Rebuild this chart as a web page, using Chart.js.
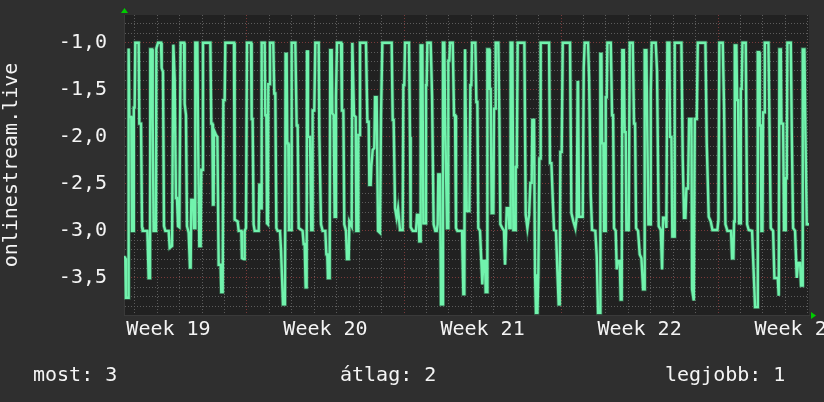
<!DOCTYPE html>
<html><head><meta charset="utf-8">
<script src="https://cdn.jsdelivr.net/npm/chart.js@4.4.1/dist/chart.umd.min.js"></script>
<style>
html,body{margin:0;padding:0;background:#2f2f2f;}
#wrap{position:relative;width:824px;height:402px;overflow:hidden;}
canvas{display:block}
.lg{position:absolute;top:362px;font-family:"DejaVu Sans Mono",monospace;font-size:20px;line-height:24px;color:#f4f4f4;white-space:pre}
</style></head><body>
<div id="wrap"><canvas id="c" width="824" height="402"></canvas></div>
<script>
// time in hours since the start of week 19
const timeHours = [
36.4,37.8,38.5,40.7,41.0,41.7,42.1,44.2,44.9,46.7,
46.9,47.8,48.5,52.1,52.8,54.6,55.7,56.4,61.4,62.8,
64.2,64.6,66.4,67.1,68.1,70.6,71.0,72.8,76.0,76.7,
78.1,79.2,80.6,84.2,85.3,87.8,89.2,90.6,92.0,93.1,
94.2,95.6,97.0,100.6,101.3,102.7,103.8,105.6,107.0,107.7,
108.4,110.6,111.3,112.4,112.7,114.9,115.6,117.0,118.4,119.1,
120.2,120.9,128.8,129.8,130.9,131.6,132.3,132.7,134.8,136.3,
137.7,139.8,140.5,142.0,142.7,144.1,144.8,154.1,154.8,158.0,
159.1,161.9,162.6,164.8,165.5,166.9,168.0,172.3,173.0,174.0,
175.1,176.2,180.5,181.2,182.2,183.0,183.7,186.9,187.6,188.7,
189.4,190.4,190.8,191.9,192.6,196.1,197.2,198.3,199.4,200.8,
203.3,204.4,205.4,206.5,208.6,209.3,210.4,211.1,212.2,212.9,
215.1,215.8,219.7,221.1,222.2,223.3,227.5,228.6,229.7,230.8,
231.8,232.2,233.2,235.4,236.8,237.9,238.2,240.0,241.1,244.7,
245.4,247.2,248.9,251.8,252.9,253.9,254.6,256.4,257.1,258.6,
259.3,260.7,261.8,262.9,263.2,264.3,268.6,269.6,271.1,272.1,
273.9,275.0,276.8,277.5,280.0,280.7,282.5,284.3,285.0,286.8,
287.1,288.2,288.9,295.3,296.8,298.2,298.9,300.3,301.0,302.5,
304.2,305.0,306.7,308.2,310.3,311.4,312.1,312.8,322.8,323.9,
324.9,326.4,328.1,329.6,330.6,331.7,334.6,335.3,336.3,337.1,
341.3,342.4,343.1,345.3,348.8,349.9,351.7,352.4,353.1,353.8,
355.6,356.7,358.5,359.5,360.2,361.0,364.5,366.0,366.7,367.7,
369.5,371.0,372.0,372.7,374.5,375.6,377.0,377.7,379.1,379.9,
380.9,382.0,383.1,383.4,384.5,385.2,388.1,389.5,390.6,391.6,
393.1,398.1,399.5,400.5,401.3,402.0,403.1,405.9,407.0,408.0,
408.8,412.3,413.4,414.5,415.5,417.3,418.7,419.8,420.9,422.7,
423.4,424.8,425.2,427.0,427.7,428.7,429.8,431.6,432.3,433.4,
434.1,436.9,438.0,439.1,441.2,443.0,444.1,445.1,445.9,448.0,
448.7,449.8,450.1,451.9,453.0,454.8,455.5,456.6,457.6,464.8,
466.2,468.0,469.8,471.2,472.6,473.3,475.1,476.2,477.2,478.7,
479.7,480.8,481.5,482.2,491.2,492.2,493.7,495.1,496.5,498.6,
500.1,501.5,502.6,503.3,504.7,505.8,513.6,515.1,517.2,519.3,
520.8,521.8,522.2,523.3,527.2,528.3,529.3,532.9,534.0,535.8,
537.2,540.7,542.2,543.6,545.7,546.1,547.2,547.9,549.3,550.0,
551.1,551.8,552.9,553.6,557.2,558.6,559.7,560.7,562.5,563.6,
564.6,566.8,567.9,568.9,569.6,571.1,572.1,573.2,573.9,576.4,
577.5,580.7,582.1,583.2,584.3,586.4,588.2,590.0,591.8,592.8,
593.5,595.3,596.4,597.5,599.2,600.0,601.0,605.3,606.7,608.5,
610.7,612.1,613.2,615.7,616.7,617.8,619.9,620.6,622.1,623.1,
624.9,625.6,632.8,634.2,635.6,637.1,638.1,639.9,641.0,643.5,
644.2,646.0,647.1,649.2,650.3,658.5,659.9,662.0,664.2,666.0,
671.3,672.4,673.4,677.0,678.4,679.9,682.0,685.9,687.0,688.4,
689.1,689.9,691.6,692.4,693.4,694.5,695.6,696.3,697.3,698.1,
701.6,703.1,704.8,708.4,709.8,711.6,713.8,714.5,715.9,716.6,
717.7,718.4,719.5,720.2,721.3,722.0,725.9,727.0,728.4,730.9,
732.3,735.9,736.9,737.7,739.1,739.8,741.6,742.6,743.7,744.4,
745.5,746.2,749.8,750.9,752.3,754.4,756.2,757.6,759.8,760.8,
761.9,762.6,764.4,765.5,766.9,769.4
];
const rankValues = [
-3.27,-3.29,-3.71,-3.71,-1.06,-1.06,-1.79,-1.79,-3.00,-3.00,
-1.69,-1.69,-1.00,-1.00,-1.86,-1.86,-2.96,-3.00,-3.00,-3.50,
-3.50,-1.07,-1.07,-1.83,-3.00,-3.00,-1.06,-1.00,-1.00,-1.27,
-1.31,-2.95,-3.00,-3.00,-3.18,-3.16,-1.02,-1.38,-2.65,-2.65,
-2.95,-2.96,-1.00,-1.00,-1.65,-1.77,-2.95,-3.02,-3.39,-3.39,
-2.67,-2.67,-2.97,-2.97,-1.00,-1.00,-1.93,-3.16,-3.16,-2.35,
-2.35,-1.00,-1.00,-1.86,-1.86,-2.72,-2.72,-1.93,-1.98,-2.00,
-3.36,-3.36,-3.65,-3.65,-1.61,-1.61,-1.00,-1.00,-2.88,-2.90,
-3.00,-3.00,-3.29,-3.30,-3.00,-2.97,-1.00,-1.00,-1.81,-1.81,
-2.93,-3.00,-3.00,-2.51,-2.51,-2.76,-1.00,-1.00,-1.77,-1.77,
-2.92,-2.93,-1.44,-1.44,-1.00,-1.00,-1.54,-1.54,-2.97,-3.00,
-3.00,-3.20,-3.20,-3.78,-3.78,-1.12,-1.12,-2.07,-2.07,-2.99,
-2.99,-1.00,-1.00,-1.88,-1.88,-2.97,-3.00,-3.14,-3.14,-3.60,
-3.60,-1.08,-2.00,-2.00,-2.99,-2.99,-1.72,-1.72,-1.00,-1.00,
-1.98,-2.93,-3.00,-3.00,-3.25,-3.25,-3.50,-3.50,-1.08,-1.08,
-1.75,-1.77,-2.85,-2.85,-1.58,-1.00,-1.00,-1.72,-1.72,-2.93,
-3.00,-3.30,-3.30,-2.90,-2.95,-1.00,-1.77,-1.79,-3.00,-3.00,
-1.98,-1.98,-1.00,-1.00,-1.84,-1.84,-2.51,-2.51,-2.32,-2.14,
-2.12,-1.58,-1.58,-3.00,-3.02,-1.77,-1.77,-1.00,-1.00,-1.82,
-1.82,-2.76,-2.86,-2.76,-2.76,-2.99,-2.99,-1.45,-1.45,-1.00,
-1.00,-2.00,-2.96,-3.00,-3.00,-2.83,-2.83,-3.11,-3.11,-1.03,
-1.03,-2.92,-2.92,-1.45,-1.45,-1.00,-1.00,-1.56,-1.56,-2.93,
-3.00,-3.00,-2.93,-2.40,-2.40,-3.78,-3.78,-1.00,-1.00,-1.75,
-1.75,-2.97,-2.97,-1.19,-1.19,-1.00,-1.00,-1.77,-1.77,-2.97,
-3.00,-3.00,-3.67,-3.67,-1.07,-1.07,-2.79,-2.79,-1.45,-1.45,
-1.00,-1.00,-1.63,-1.63,-2.97,-3.00,-3.32,-3.57,-3.32,-3.32,
-3.65,-3.65,-1.07,-1.07,-1.49,-1.49,-2.81,-2.81,-1.70,-1.70,
-1.00,-1.00,-1.79,-2.93,-2.97,-3.00,-3.36,-3.36,-2.76,-2.76,
-2.97,-2.97,-1.00,-1.00,-2.99,-2.99,-2.32,-2.32,-1.00,-1.00,
-2.83,-2.97,-2.83,-2.49,-2.49,-1.82,-1.82,-3.46,-3.87,-3.87,
-3.46,-2.23,-2.23,-1.00,-1.00,-2.28,-2.28,-2.65,-2.99,-3.00,
-3.43,-3.78,-3.78,-2.16,-2.16,-1.00,-1.00,-2.81,-2.90,-2.97,
-2.85,-1.42,-1.42,-2.85,-2.85,-1.26,-1.00,-1.00,-1.37,-2.62,
-2.99,-3.00,-3.27,-3.87,-3.87,-1.12,-1.12,-2.07,-2.07,-3.00,
-3.00,-1.58,-1.58,-1.00,-1.00,-1.77,-1.77,-2.97,-3.00,-3.41,
-3.32,-3.32,-3.73,-3.73,-1.08,-1.08,-1.95,-1.95,-2.99,-2.99,
-1.00,-1.00,-1.86,-1.86,-2.97,-3.00,-3.25,-3.29,-3.62,-3.62,
-1.08,-1.08,-2.04,-2.93,-2.93,-1.54,-1.00,-1.00,-1.30,-2.95,
-2.99,-3.41,-2.86,-2.86,-2.97,-1.00,-1.00,-2.00,-2.00,-3.06,
-3.06,-1.00,-1.00,-2.23,-2.86,-2.86,-2.55,-2.55,-1.81,-1.81,
-3.62,-3.74,-1.81,-1.81,-1.00,-1.00,-2.07,-2.85,-2.90,-2.99,
-2.99,-2.88,-1.00,-1.00,-1.67,-2.93,-3.00,-3.00,-3.29,-3.29,
-2.90,-1.03,-1.03,-1.61,-1.61,-2.92,-2.92,-1.49,-1.49,-1.00,
-1.00,-2.93,-2.99,-3.00,-3.36,-3.81,-3.81,-1.10,-1.10,-1.88,
-1.88,-3.00,-3.00,-1.74,-1.74,-1.00,-1.00,-1.86,-2.97,-3.00,
-3.50,-3.50,-3.69,-1.07,-1.07,-1.86,-1.86,-2.99,-2.99,-2.44,
-2.44,-1.00,-1.00,-1.98,-2.97,-3.00,-3.50,-3.34,-3.34,-3.58,
-3.58,-1.07,-1.07,-1.98,-2.93,-2.93
];
const weekLabels = ['Week 19','Week 20','Week 21','Week 22','Week 23'];
const weekLabelHours = [84, 252, 420, 588, 756];
const yLabelValues = [-1.0, -1.5, -2.0, -2.5, -3.0, -3.5];
const yLabels = ['-1,0', '-1,5', '-2,0', '-2,5', '-3,0', '-3,5'];
const axisTitle = 'onlinestream.live';
const legendNames = ['most', 'átlag', 'legjobb'];
const legendValues = [3, 2, 1];

const X_MIN = 36.4, X_MAX = 769.3, Y_MIN = -3.894, Y_MAX = -0.705;
const FONT = '"DejaVu Sans Mono", monospace';
const TXT = '#f4f4f4', GRID_MINOR = '#5c5c5c', GRID_MAJOR = '#7a3a3a';

if (timeHours.length !== rankValues.length) console.error('length mismatch', timeHours.length, rankValues.length);
const pts = timeHours.map((h, i) => ({x: h, y: rankValues[i]}));

const bgPlugin = {
  id: 'bg',
  beforeDraw(chart) {
    const {ctx, chartArea: a} = chart;
    ctx.save();
    ctx.fillStyle = '#2f2f2f';
    ctx.fillRect(0, 0, chart.width, chart.height);
    ctx.fillStyle = '#212121';
    ctx.fillRect(a.left, a.top, a.right - a.left, a.bottom - a.top);
    ctx.restore();
  },
  afterDraw(chart) {
    const {ctx, chartArea: a} = chart;
    ctx.save();
    ctx.fillStyle = '#00cc00';
    ctx.beginPath();
    ctx.moveTo(a.left - 3, a.top - 2); ctx.lineTo(a.left + 4, a.top - 2); ctx.lineTo(a.left + 0.5, a.top - 7);
    ctx.closePath(); ctx.fill();
    ctx.beginPath();
    ctx.moveTo(a.right + 2, a.bottom - 3); ctx.lineTo(a.right + 2, a.bottom + 4); ctx.lineTo(a.right + 7, a.bottom + 0.5);
    ctx.closePath(); ctx.fill();
    ctx.restore();
  }
};

new Chart(document.getElementById('c'), {
  type: 'line',
  data: {
    datasets: [
      {data: pts, borderColor: 'rgba(90,220,150,0.35)', borderWidth: 4, pointRadius: 0, tension: 0, fill: false},
      {data: pts, borderColor: '#7fffba', borderWidth: 2.4, pointRadius: 0, tension: 0, fill: false}
    ]
  },
  options: {
    responsive: false,
    animation: false,
    events: [],
    layout: {padding: {top: 15, right: 15, left: 0, bottom: 0}},
    plugins: {legend: {display: false}, tooltip: {enabled: false}},
    scales: {
      x: {
        type: 'linear', min: X_MIN, max: X_MAX,
        afterBuildTicks: s => { const t = []; for (let h = 48; h <= X_MAX; h += 12) t.push({value: h}); s.ticks = t; },
        afterFit: s => { s.height = 87; s.paddingLeft = 0; s.paddingRight = 0; },
        ticks: {
          autoSkip: false, maxRotation: 0, minRotation: 0, padding: 3, color: TXT,
          font: {family: FONT, size: 20},
          callback: v => { const i = weekLabelHours.indexOf(v); return i >= 0 ? weekLabels[i] : ''; }
        },
        grid: {
          drawTicks: false, lineWidth: 1,
          color: c => { const v = c.tick ? c.tick.value : null; if (v == null) return 'transparent';
            if (v % 168 === 0) return GRID_MAJOR; if (v % 24 === 0) return GRID_MINOR; return 'transparent'; }
        },
        border: {display: true, color: '#3a3a3a', dash: [1, 2]}
      },
      y: {
        min: Y_MIN, max: Y_MAX,
        afterBuildTicks: s => { const t = []; for (let k = -38; k <= -8; k++) t.push({value: k / 10}); s.ticks = t; },
        afterFit: s => { s.width = 124; s.paddingTop = 0; s.paddingBottom = 0; },
        ticks: {
          autoSkip: false, padding: 17, color: TXT, font: {family: FONT, size: 20},
          callback: v => { const i = yLabelValues.findIndex(t => Math.abs(t - v) < 1e-6); return i >= 0 ? yLabels[i] : ''; }
        },
        grid: {
          drawTicks: false, lineWidth: 1,
          color: c => { const v = c.tick ? c.tick.value : null; if (v == null) return 'transparent';
            return Math.abs(Math.round(v * 10)) % 5 === 0 ? GRID_MAJOR : GRID_MINOR; }
        },
        border: {display: true, color: '#3a3a3a', dash: [1, 2]},
        title: {display: true, text: axisTitle, color: TXT, font: {family: FONT, size: 20}, padding: {top: 0, bottom: 0}}
      }
    }
  },
  plugins: [bgPlugin]
});

const lgLeft = [33, 340, 665];
const wrap = document.getElementById('wrap');
legendNames.forEach((n, i) => {
  const d = document.createElement('div');
  d.className = 'lg';
  d.style.left = lgLeft[i] + 'px';
  d.textContent = n + ': ' + legendValues[i];
  wrap.appendChild(d);
});
</script>
</body></html>
